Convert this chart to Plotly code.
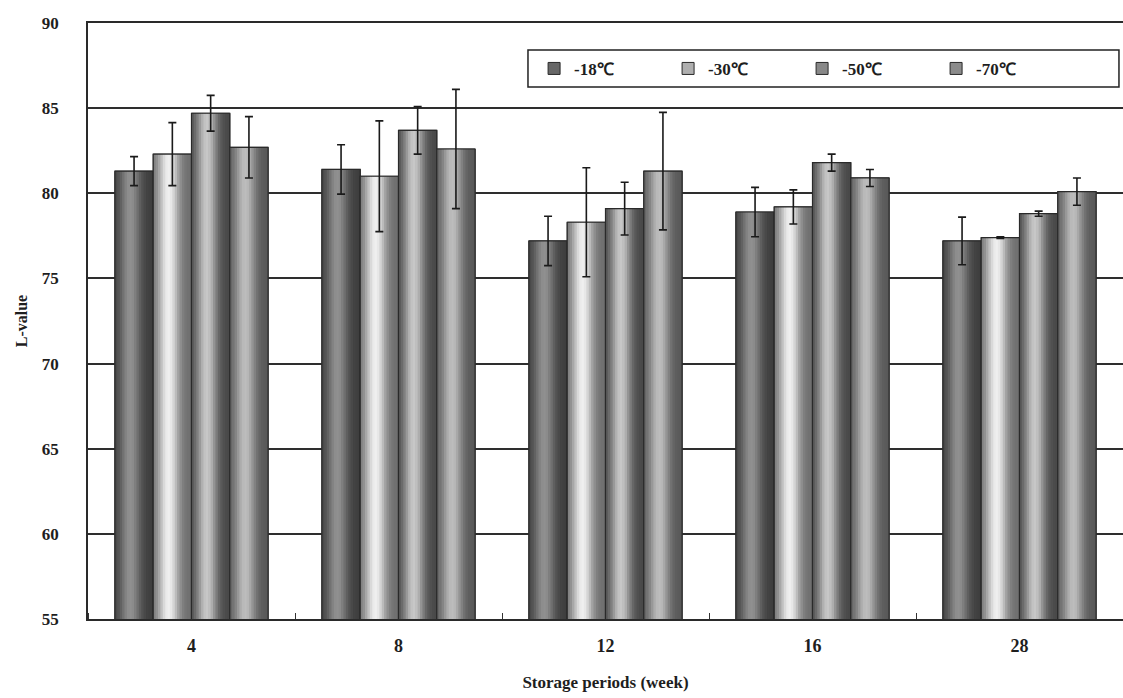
import numpy as np
import plotly.graph_objects as go

# Storage period (week) categories
weeks = ["4", "8", "12", "16", "28"]

# Mean L-value and standard deviation for each storage temperature
l_m18 = [81.3, 81.4, 77.2, 78.9, 77.2]
sd_m18 = [0.85, 1.45, 1.45, 1.45, 1.4]

l_m30 = [82.3, 81.0, 78.3, 79.2, 77.4]
sd_m30 = [1.85, 3.25, 3.2, 1.0, 0.05]

l_m50 = [84.7, 83.7, 79.1, 81.8, 78.8]
sd_m50 = [1.05, 1.4, 1.55, 0.5, 0.15]

l_m70 = [82.7, 82.6, 81.3, 80.9, 80.1]
sd_m70 = [1.8, 3.5, 3.45, 0.5, 0.8]

series_names = ["-18℃", "-30℃", "-50℃", "-70℃"]
series_vals = [l_m18, l_m30, l_m50, l_m70]
series_sd = [sd_m18, sd_m30, sd_m50, sd_m70]

# cylinder shading: (edge gray, highlight gray) per temperature
shade = [(62, 145), (110, 240), (72, 200), (88, 190)]

FONT = "Liberation Serif"
xpos = list(range(len(weeks)))
group_w = 0.74
bar_w = group_w / 4
n_strips = 16

fig = go.Figure()

def gray(v):
    v = int(max(0, min(255, v)))
    return f"rgb({v},{v},{v})"

for i, (name, vals, sd) in enumerate(zip(series_names, series_vals, series_sd)):
    left = -group_w / 2 + i * bar_w
    dark, light = shade[i]
    # base bar (also provides the legend swatch)
    fig.add_trace(go.Bar(
        x=xpos, y=vals, base=0, name=name,
        offset=left, width=bar_w,
        marker=dict(color=gray((dark + light) / 2), line=dict(color="#2a2a2a", width=1)),
        showlegend=True, hoverinfo="skip",
    ))
    # vertical strips giving the rounded, cylinder-like shading
    sw = bar_w / n_strips
    for k in range(n_strips):
        t = (k + 0.5) / n_strips
        f = np.exp(-((t - 0.40) / 0.27) ** 2)
        g = dark + (light - dark) * f
        fig.add_trace(go.Bar(
            x=xpos, y=vals, base=0,
            offset=left + k * sw, width=sw * (1.0 if k == n_strips - 1 else 1.25),
            marker=dict(color=gray(g), line=dict(width=0)),
            showlegend=False, hoverinfo="skip",
        ))
    # outline with error bars on top
    fig.add_trace(go.Bar(
        x=xpos, y=vals, base=0,
        offset=left, width=bar_w,
        marker=dict(color="rgba(0,0,0,0)", line=dict(color="#2a2a2a", width=1.2)),
        error_y=dict(type="data", array=sd, visible=True, color="#1a1a1a",
                     thickness=1.6, width=4),
        showlegend=False, hoverinfo="skip",
    ))

# framed box behind the legend entries
fig.add_shape(type="rect", xref="paper", yref="paper",
              x0=0.4251, x1=0.9961, y0=0.8926, y1=0.9547,
              line=dict(color="#222", width=1.5), fillcolor="white", layer="above")

fig.update_layout(
    width=1123, height=698,
    barmode="overlay",
    paper_bgcolor="white", plot_bgcolor="white",
    margin=dict(l=88, r=0, t=23, b=79, autoexpand=False),
    font=dict(family=FONT, color="#1e1e1e"),
    showlegend=True,
    legend=dict(
        orientation="h", x=0.431, y=0.923, xanchor="left", yanchor="middle",
        borderwidth=0, bgcolor="rgba(0,0,0,0)",
        entrywidth=89, entrywidthmode="pixels",
        font=dict(family=FONT, size=17, color="#1e1e1e", weight="bold"),
    ),
    xaxis=dict(
        range=[-0.5, 4.5],
        tickmode="array", tickvals=xpos, ticktext=weeks,
        ticks="", showgrid=False, zeroline=False, ticklabelstandoff=10,
        showline=True, linecolor="#2a2a2a", linewidth=1.5, mirror=True,
        tickfont=dict(family=FONT, size=18, color="#1e1e1e", weight="bold"),
        minor=dict(tickmode="linear", tick0=0.5, dtick=1, ticks="inside",
                   ticklen=6, tickcolor="#333", tickwidth=1.2, showgrid=False),
        title=dict(text="Storage periods (week)", standoff=21,
                   font=dict(family=FONT, size=17, color="#1e1e1e", weight="bold")),
    ),
    yaxis=dict(
        range=[55, 90], tick0=55, dtick=5,
        showgrid=True, gridcolor="#2e2e2e", gridwidth=1.5,
        zeroline=False, ticks="", ticklabelstandoff=24,
        showline=True, linecolor="#2a2a2a", linewidth=1.5,
        tickfont=dict(family=FONT, size=17, color="#1e1e1e", weight="bold"),
        title=dict(text="L-value", standoff=10,
                   font=dict(family=FONT, size=16, color="#1e1e1e", weight="bold")),
    ),
)

fig.write_html("out.html")
